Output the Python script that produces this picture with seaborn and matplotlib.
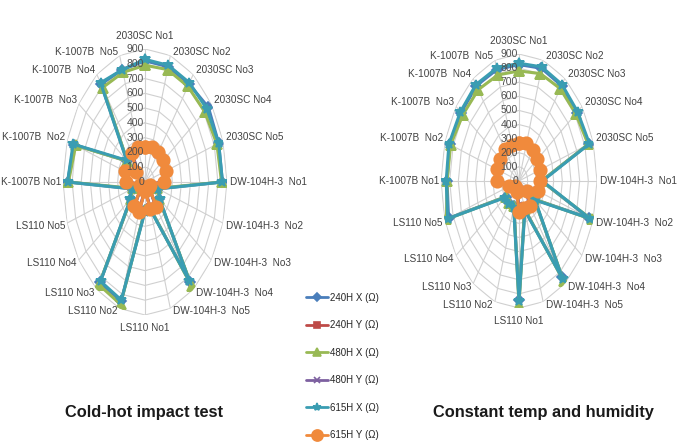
import numpy as np
import matplotlib
matplotlib.use("Agg")
import matplotlib.pyplot as plt
from matplotlib.lines import Line2D
import seaborn as sns

# --- données (valeurs en ohms) ---
categories = [
    "2030SC No1", "2030SC No2", "2030SC No3", "2030SC No4", "2030SC No5",
    "DW-104H-3  No1", "DW-104H-3  No2", "DW-104H-3  No3", "DW-104H-3  No4", "DW-104H-3  No5",
    "LS110 No1", "LS110 No2", "LS110 No3", "LS110 No4", "LS110 No5",
    "K-1007B No1", "K-1007B  No2", "K-1007B  No3", "K-1007B  No4", "K-1007B  No5",
]
series_names = ["240H X (Ω)", "240H Y (Ω)", "480H X (Ω)", "480H Y (Ω)", "615H X (Ω)", "615H Y (Ω)"]
r_ticks = [0, 100, 200, 300, 400, 500, 600, 700, 800, 900]
titles = ["Cold-hot impact test", "Constant temp and humidity"]

# essai choc chaud-froid
cold_240hx = [820, 820, 820, 860, 850, 850, 150, 190, 840, 190, 190, 850, 840, 190, 150, 850, 820, 240, 820, 800]
cold_240hy = [230, 240, 240, 240, 230, 200, 55, 55, 200, 180, 55, 200, 190, 45, 55, 200, 220, 110, 230, 240]
cold_480hx = [790, 800, 800, 810, 830, 840, 140, 190, 870, 190, 190, 870, 860, 190, 140, 840, 800, 240, 790, 780]
cold_480hy = [220, 230, 230, 230, 220, 190, 50, 50, 190, 170, 50, 190, 180, 40, 50, 190, 210, 100, 220, 230]
cold_615hx = [830, 830, 830, 840, 850, 850, 150, 200, 830, 200, 200, 840, 830, 200, 150, 850, 830, 250, 830, 800]
cold_615hy = [240, 250, 250, 250, 240, 210, 60, 60, 210, 190, 60, 210, 200, 50, 60, 210, 230, 120, 240, 250]

# température et humidité constantes
humid_240hx = [825, 840, 835, 825, 845, 260, 850, 220, 845, 210, 840, 190, 190, 190, 855, 830, 840, 825, 835, 830]
humid_240hy = [260, 270, 260, 250, 240, 230, 220, 110, 210, 190, 210, 75, 55, 55, 110, 240, 260, 260, 270, 260]
humid_480hx = [780, 800, 810, 810, 840, 260, 880, 220, 880, 210, 880, 190, 190, 190, 880, 830, 830, 800, 800, 790]
humid_480hy = [250, 260, 250, 240, 230, 220, 210, 100, 200, 180, 200, 70, 50, 50, 100, 230, 250, 250, 260, 250]
humid_615hx = [835, 850, 845, 835, 855, 270, 860, 230, 855, 220, 850, 200, 200, 200, 865, 840, 850, 835, 845, 840]
humid_615hy = [270, 280, 270, 260, 250, 240, 230, 120, 220, 200, 220, 80, 60, 60, 120, 250, 270, 270, 280, 270]

colors = ["#4A7EBB", "#BE4B48", "#98B954", "#7D60A0", "#3A9DB2", "#F08A3C"]
markers = ["D", "s", "^", "x", "*", "o"]
msizes = [5, 5, 7, 5, 7, 9]

sns.set_theme(style="white")
plt.rcParams["font.family"] = ["Liberation Sans", "DejaVu Sans"]

fig = plt.figure(figsize=(6.87, 4.45), dpi=100)

n = len(categories)
theta = np.linspace(0, 2 * np.pi, n, endpoint=False)
theta_closed = np.append(theta, 2 * np.pi)


def draw_radar(rect, data, title, title_x):
    ax = fig.add_axes(rect, projection="polar")
    ax.set_theta_zero_location("N")
    ax.set_theta_direction(-1)
    ax.set_aspect("auto")
    ax.set_ylim(0, 900)
    ax.grid(False)
    ax.set_xticks([])
    ax.set_yticks([])
    ax.spines["polar"].set_visible(False)

    # grille polygonale type Excel
    for r in r_ticks[1:]:
        ax.plot(theta_closed, [r] * (n + 1), color="#d0d0d0", lw=0.8, zorder=0)
    for t in theta:
        ax.plot([t, t], [0, 900], color="#d0d0d0", lw=0.8, zorder=0)

    # séries
    for vals, c, m, ms in zip(data, colors, markers, msizes):
        r = list(vals) + [vals[0]]
        sns.lineplot(x=theta_closed, y=r, ax=ax, sort=False, estimator=None,
                     color=c, lw=2.2, marker=m, markersize=ms,
                     markeredgecolor=c, markeredgewidth=1.2, zorder=3)
    ax.set_xlabel("")
    ax.set_ylabel("")

    # graduations radiales
    for r in r_ticks:
        ax.annotate(str(r), xy=(0, r), xytext=(-1, 0), textcoords="offset pixels",
                    ha="right", va="center", fontsize=7.5, color="#505050",
                    annotation_clip=False, zorder=5)

    # étiquettes des catégories
    for t, lab in zip(theta, categories):
        s, c = np.sin(t), np.cos(t)
        if abs(s) < 1e-6:
            ha = "center"
            va = "bottom" if c > 0 else "top"
            dy = 8 if c > 0 else -8
            dx = 0
        else:
            ha = "left" if s > 0 else "right"
            va = "center"
            dx = 3 if s > 0 else -2
            dy = 4 if c > 0.1 else (-3 if c < -0.1 else 0)
        ax.annotate(lab, xy=(t, 900), xytext=(dx, dy), textcoords="offset pixels",
                    ha=ha, va=va, fontsize=7.2, color="#404040",
                    annotation_clip=False)

    fig.text(title_x, 0.072, title, ha="center", va="center",
             fontsize=11.8, fontweight="bold", color="#1a1a1a")
    return ax


draw_radar([63 / 687, 130 / 445, 164 / 687, 266 / 445],
           [cold_240hx, cold_240hy, cold_480hx, cold_480hy, cold_615hx, cold_615hy],
           titles[0], 144 / 687)
draw_radar([441 / 687, 137 / 445, 156 / 687, 254 / 445],
           [humid_240hx, humid_240hy, humid_480hx, humid_480hy, humid_615hx, humid_615hy],
           titles[1], 543 / 687)

handles = [Line2D([0], [0], color=c, lw=2, marker=m, markersize=ms - 1,
                  markeredgecolor=c, markeredgewidth=1.2)
           for c, m, ms in zip(colors, markers, msizes)]
fig.legend(handles, series_names, loc="upper left",
           bbox_to_anchor=(302 / 687, 1 - 289 / 445), frameon=False,
           fontsize=7, handlelength=2.3, handletextpad=0.2,
           labelspacing=1.8, borderaxespad=0)

fig.savefig("out.png", dpi=100, facecolor="white")
